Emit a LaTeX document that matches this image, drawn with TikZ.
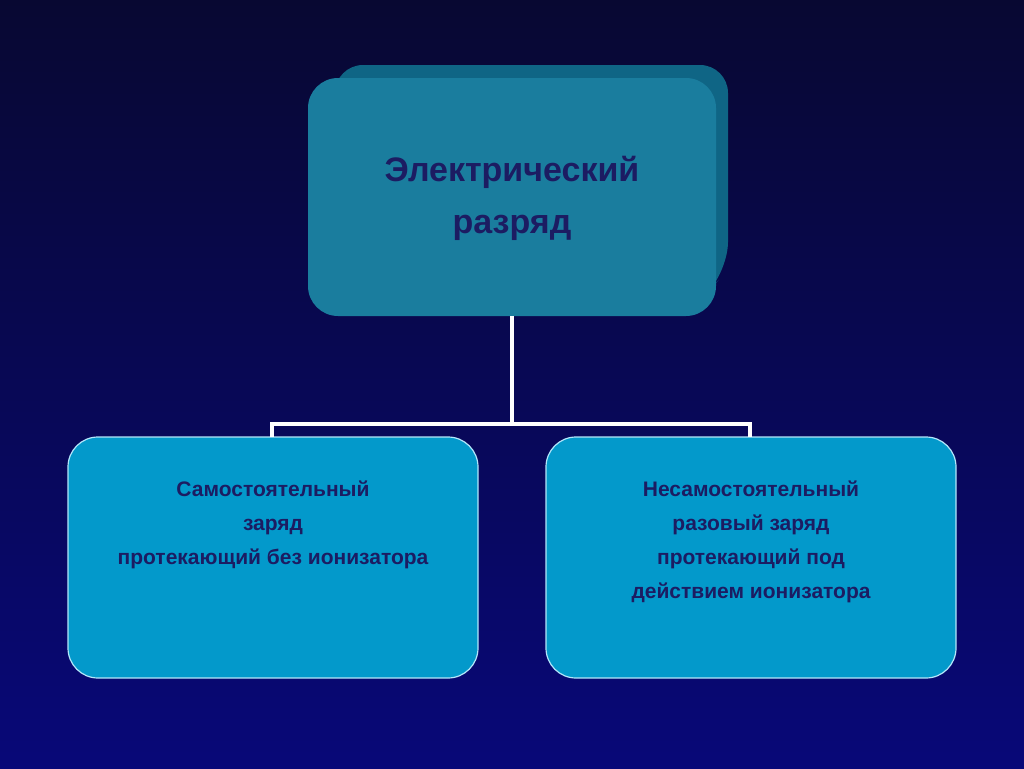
\documentclass[tikz,border=0pt]{standalone}
\usepackage{fontspec}
\setmainfont{Liberation Sans}
\begin{document}
\begin{tikzpicture}[x=1pt,y=-1pt,
  lowbox/.style={draw=white!70!cyan,line width=1.2pt,fill=boxc,rounded corners=30pt},
  conn/.style={draw=white,line width=4pt},
  txt/.style={text=txtc,font=\bfseries\fontsize{21}{34}\selectfont,align=center}]
\definecolor{boxc}{HTML}{0399CB}
\definecolor{topc}{HTML}{1A7D9E}
\definecolor{backc}{HTML}{0F6585}
\definecolor{txtc}{HTML}{1C1C62}
\shade[top color={rgb,255:red,8;green,8;blue,50},bottom color={rgb,255:red,8;green,8;blue,120}] (0,0) rectangle (1024,768);
\useasboundingbox (0,0) rectangle (1024,768);
\fill[backc,rounded corners=28pt] (335,65) -- (728,65) -- (728,270) -- (700,300) -- (335,300) -- cycle;
\fill[topc,rounded corners=30pt] (308,78) rectangle (716,316);
\node[txt,font=\bfseries\fontsize{34}{52}\selectfont] (top) at (512,198) {Электрический\\разряд};
\coordinate (tb) at (512,316);
\coordinate (mid) at (512,424);
\path[lowbox] (68,437) rectangle (478,678);
\path[lowbox] (546,437) rectangle (956,678);
\coordinate (lt) at (272,437);
\coordinate (rt) at (750,437);
\draw[conn] (tb) -- (mid);
\draw[conn] (lt) |- (mid) -| (rt);
\node[txt] (l) at (273,525) {Самостоятельный\\заряд\\протекающий без ионизатора};
\node[txt] (r) at (751,542) {Несамостоятельный\\разовый заряд\\протекающий под\\действием ионизатора};
\end{tikzpicture}
\end{document}
